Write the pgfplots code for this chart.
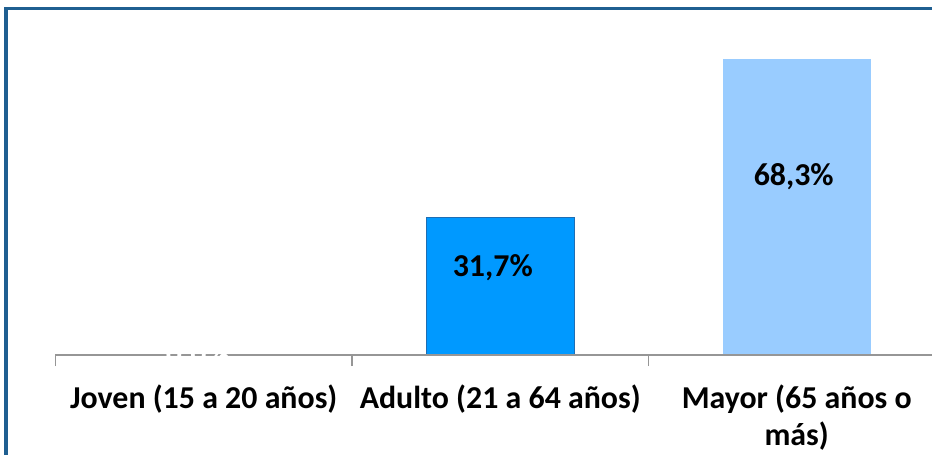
\documentclass[border=0pt]{standalone}
\usepackage{fontspec}
\setmainfont{Carlito}
\usepackage{pgfplots}
\pgfplotsset{compat=1.18}
\definecolor{marco}{RGB}{31,95,145}
\definecolor{ejegris}{RGB}{150,150,150}
\definecolor{azul}{RGB}{0,153,255}
\definecolor{azulborde}{RGB}{30,110,180}
\definecolor{celeste}{RGB}{153,204,255}
\newcommand{\fuente}{\fontsize{23.9}{27.8}\selectfont\bfseries}

\begin{document}
\begin{tikzpicture}
\useasboundingbox (0pt,0pt) rectangle (699pt,340.5pt);
\clip (0pt,0pt) rectangle (699pt,340.5pt);
% marco exterior (recortado a la derecha y abajo)
\draw[marco, line width=2.4pt] (4.5pt,-15pt) -- (4.5pt,334.1pt) -- (720pt,334.1pt);
\begin{axis}[
	at={(41.6pt,73.9pt)}, anchor=south west,
	scale only axis, width=667.1pt, height=244.1pt,
	xmin=-0.5, xmax=2.5, ymin=0, ymax=75,
	axis x line=bottom, axis y line=none,
	axis line style={ejegris, line width=1.5pt, -},
	xtick={0,1,2},
	xticklabels={Joven (15 a 20 años), Adulto (21 a 64 años), {Mayor (65 años o\\más)}},
	major tick length=0pt,
	minor xtick={-0.5,0.5,1.5,2.5},
	minor tick length=8pt, tick align=outside,
	tick style={ejegris, line width=1.3pt},
	xticklabel style={font=\fuente, align=center, inner sep=0pt, anchor=north, yshift=-21.5pt},
	ybar, bar width=111pt, bar shift=0pt,
	axis on top, clip=false,
]
\addplot[fill=azul, draw=azulborde, line width=0.75pt] coordinates {(1,31.7)};
\addplot[fill=celeste, draw=none] coordinates {(2,68.3)};

\node[font=\fuente] at (axis cs:0.975,20.2) {31,7\%};
\node[font=\fuente] at (axis cs:1.99,41.1) {68,3\%};
\coordinate (cero) at (axis cs:-0.02,0);
\end{axis}
\node[white, font=\fuente] at (cero) {0,0\%};
\end{tikzpicture}
\end{document}
